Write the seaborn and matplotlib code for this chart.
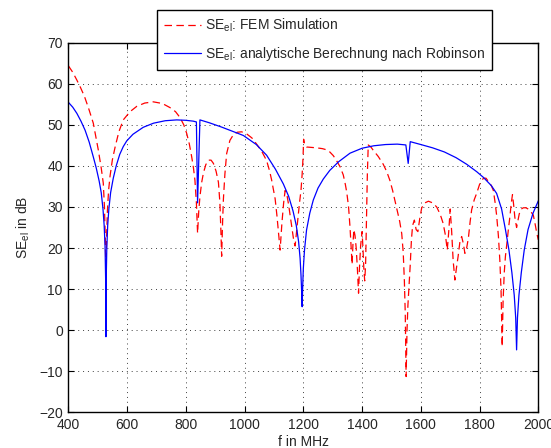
import numpy as np
import pandas as pd
import matplotlib
matplotlib.use("Agg")
import matplotlib.pyplot as plt
import seaborn as sns

# SE_el, FEM Simulation (rot, gestrichelt)
f_fem = [400, 415, 429, 442, 455, 470, 485, 495, 502, 512, 519, 523, 526, 528, 530, 533,
         537, 542, 550, 559, 572, 587, 610, 633, 660, 689, 720, 746, 765, 780, 793, 803,
         812, 820, 826, 831, 836, 840, 844, 848, 854, 860, 868, 877, 886, 894, 903, 911,
         916, 919, 922, 925, 928, 933, 939, 950, 962, 975, 990, 1007, 1025, 1041, 1058,
         1075, 1085, 1092, 1099, 1104, 1110, 1115, 1121, 1127, 1133, 1138, 1144, 1150,
         1156, 1162, 1167, 1172, 1177, 1182, 1187, 1192, 1196, 1199, 1201, 1205, 1211,
         1230, 1245, 1265, 1280, 1290, 1302, 1313, 1325, 1336, 1343, 1348, 1354, 1359,
         1363, 1366, 1369, 1372, 1376, 1380, 1384, 1388, 1391, 1395, 1400, 1403, 1406,
         1409, 1412, 1415, 1418, 1421, 1430, 1438, 1455, 1472, 1484, 1495, 1504, 1512,
         1520, 1528, 1535, 1540, 1544, 1547, 1550, 1553, 1556, 1560, 1564, 1568, 1572,
         1578, 1584, 1590, 1596, 1603, 1614, 1626, 1640, 1654, 1666, 1676, 1684, 1690,
         1695, 1700, 1705, 1710, 1716, 1721, 1727, 1733, 1739, 1745, 1750, 1756, 1762,
         1768, 1773, 1782, 1790, 1800, 1813, 1822, 1830, 1840, 1847, 1853, 1858, 1864,
         1869, 1873, 1877, 1880, 1884, 1888, 1892, 1898, 1903, 1908, 1912, 1916, 1920,
         1926, 1930, 1935, 1942, 1949, 1958, 1965, 1975, 1983, 1990, 1995, 2000]
se_fem = [64.4, 62.8, 60.9, 59.0, 56.9, 53.8, 50.4, 46.5, 43.9, 39.5, 35.8, 30.0, 22.0,
          14.0, 22.0, 29.0, 34.0, 37.5, 41.5, 44.5, 48.3, 51.2, 53.2, 54.5, 55.3, 55.6,
          55.2, 54.2, 53.2, 51.8, 50.0, 47.9, 45.3, 42.2, 39.5, 36.5, 31.0, 23.6, 29.0,
          32.5, 36.0, 38.3, 40.3, 41.4, 41.4, 40.6, 38.7, 36.0, 31.0, 25.0, 18.0, 26.0,
          32.0, 38.0, 43.0, 46.2, 47.6, 48.2, 48.3, 47.8, 46.8, 45.3, 43.6, 41.3, 38.8,
          36.6, 34.0, 32.0, 28.0, 24.0, 19.5, 26.0, 31.0, 34.0, 33.0, 30.5, 27.5, 24.5,
          22.0, 20.5, 24.0, 27.5, 31.0, 34.0, 38.0, 42.0, 46.5, 45.0, 44.6, 44.5, 44.4,
          44.2, 43.9, 43.4, 42.5, 41.3, 39.8, 37.8, 35.5, 33.5, 30.0, 25.0, 20.0, 16.0,
          21.0, 24.5, 23.0, 20.0, 15.0, 9.0, 15.0, 20.5, 24.0, 20.0, 15.0, 12.0, 16.0,
          27.0, 38.0, 45.1, 44.6, 43.8, 42.3, 40.4, 38.6, 36.4, 34.0, 31.5, 29.0, 26.5,
          23.5, 19.0, 12.0, 4.0, -11.3, 0.0, 6.0, 11.0, 16.0, 22.0, 25.5, 26.8, 24.5,
          24.0, 27.0, 29.8, 31.0, 31.4, 31.0, 30.0, 28.2, 26.0, 23.0, 19.5, 24.0, 29.5,
          24.0, 17.0, 12.2, 15.0, 18.0, 21.5, 22.8, 21.0, 18.7, 20.0, 22.5, 26.5, 29.3,
          31.8, 33.3, 35.5, 37.0, 37.0, 36.2, 35.2, 34.0, 31.0, 28.0, 23.0, 17.0, 10.0,
          -4.0, 7.0, 14.0, 18.0, 20.5, 24.5, 27.5, 31.0, 33.0, 30.5, 27.5, 25.0, 26.5,
          28.3, 29.5, 29.8, 29.8, 29.5, 28.8, 28.0, 25.5, 23.5, 22.0]

# SE_el, analytische Berechnung nach Robinson (blau)
f_rob = [400, 415, 429, 443, 457, 471, 485, 495, 505, 512, 518, 522, 525, 527, 528, 529,
         531, 534, 538, 544, 553, 563, 575, 587, 599, 620, 655, 690, 730, 769, 800, 825,
         836, 840, 848, 880, 920, 960, 996, 1040, 1075, 1105, 1132, 1150, 1165, 1176,
         1184, 1189, 1192, 1194, 1196, 1198, 1200, 1204, 1211, 1222, 1234, 1250, 1268,
         1290, 1320, 1359, 1400, 1440, 1480, 1520, 1549, 1557, 1564, 1600, 1640, 1680,
         1720, 1756, 1790, 1813, 1840, 1858, 1875, 1888, 1900, 1910, 1918, 1923, 1926,
         1929, 1934, 1942, 1952, 1965, 1982, 2000]
se_rob = [55.5, 54.3, 52.8, 50.9, 48.7, 45.8, 42.2, 39.5, 36.3, 33.5, 29.5, 25.5, 20.5,
          12.5, -1.6, 12.5, 20.0, 25.5, 29.5, 33.5, 37.0, 40.0, 42.8, 44.7, 46.1, 47.7,
          49.4, 50.4, 51.0, 51.2, 51.1, 50.9, 50.7, 31.0, 51.2, 50.5, 49.5, 48.4, 47.4,
          45.2, 42.6, 39.2, 35.6, 32.6, 29.0, 25.5, 21.5, 17.5, 13.5, 10.0, 5.7, 11.0,
          15.0, 19.5, 24.4, 28.5, 31.7, 34.6, 36.8, 38.9, 41.0, 43.1, 44.3, 44.9, 45.2,
          45.3, 45.1, 40.6, 45.9, 45.2, 44.4, 43.4, 42.0, 40.4, 38.6, 37.2, 35.2, 33.3,
          29.5, 24.5, 19.5, 14.0, 8.5, 3.0, -4.8, 3.0, 8.5, 14.0, 19.5, 24.5, 28.5, 31.5]

x_ticks = [400, 600, 800, 1000, 1200, 1400, 1600, 1800, 2000]
y_ticks = [-20, -10, 0, 10, 20, 30, 40, 50, 60, 70]

sns.set_style("ticks", {"xtick.direction": "in", "ytick.direction": "in"})
plt.rcParams["font.family"] = ["Liberation Sans", "DejaVu Sans"]
plt.rcParams["mathtext.fontset"] = "custom"
plt.rcParams["mathtext.rm"] = "Liberation Sans"
plt.rcParams["mathtext.it"] = "Liberation Sans"

df_fem = pd.DataFrame({"f": f_fem, "SE": se_fem})
df_rob = pd.DataFrame({"f": f_rob, "SE": se_rob})

fig = plt.figure(figsize=(5.51, 4.48), dpi=100)
ax = fig.add_axes([0.124, 0.0797, 0.853, 0.825])

sns.lineplot(data=df_fem, x="f", y="SE", ax=ax, color="red", lw=0.9,
             estimator=None, sort=False, label=r"SE$_{\rm el}$: FEM Simulation")
sns.lineplot(data=df_rob, x="f", y="SE", ax=ax, color="blue", lw=0.9,
             estimator=None, sort=False,
             label=r"SE$_{\rm el}$: analytische Berechnung nach Robinson")
ax.lines[0].set_dashes((6, 3.5))

ax.set_xlim(400, 2000)
ax.set_ylim(-20, 70)
ax.set_xticks(x_ticks)
ax.set_yticks(y_ticks)
ax.grid(True, color="0.25", linestyle=(0, (1, 4)), lw=0.7)
ax.tick_params(axis="both", labelsize=10, length=4, width=0.8, color="black",
               top=True, right=True, pad=4)
for s in ax.spines.values():
    s.set_visible(True)
    s.set_color("black")
    s.set_linewidth(1.0)

ax.set_xlabel("f in MHz", fontsize=10, labelpad=2)
ax.set_ylabel(r"SE$_{\rm el}$ in dB", fontsize=10, labelpad=5)

leg = ax.legend(loc="upper left", bbox_to_anchor=(156.7 / 551, 1 - 10 / 448),
                bbox_transform=fig.transFigure, fontsize=10, frameon=True,
                fancybox=False, edgecolor="black", framealpha=1,
                handlelength=2.7, handletextpad=0.3, borderpad=0.5,
                labelspacing=0.75, borderaxespad=0)
leg.get_frame().set_linewidth(1.0)

fig.savefig("out.png", dpi=100)
